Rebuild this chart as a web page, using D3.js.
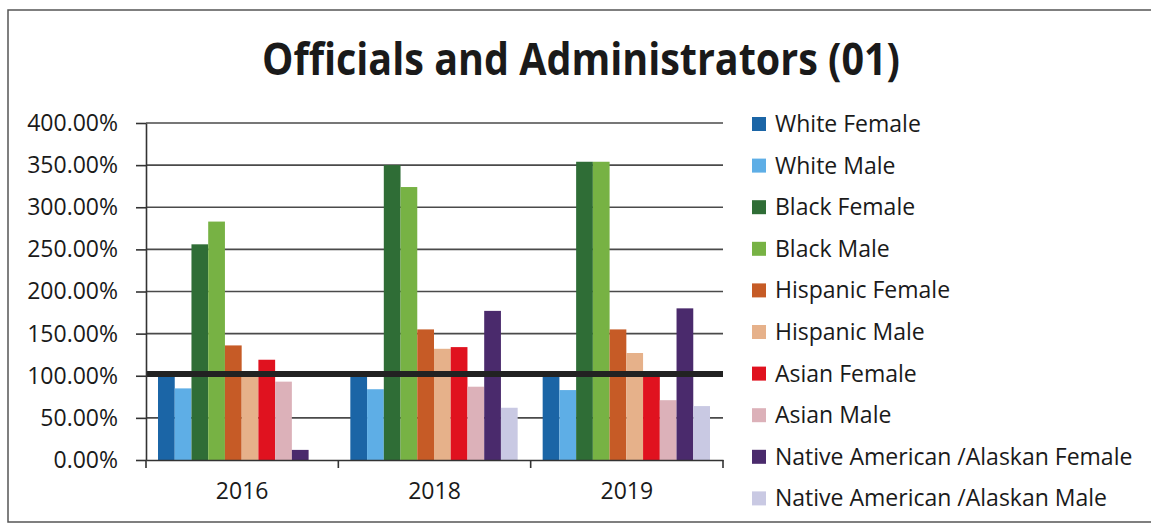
<!DOCTYPE html>
<html>
<head>
<meta charset="utf-8">
<script src="https://cdn.jsdelivr.net/npm/d3@7"></script>
<style>
  body { margin: 0; background: #fff; }
  text { font-family: "Open Sans", sans-serif; fill: #1a1a1a; }
</style>
</head>
<body>
<script>
// categories + series (ratio, 1 = 100%)
const years = ["2016", "2018", "2019"];
const seriesNames = [
  "White Female", "White Male", "Black Female", "Black Male",
  "Hispanic Female", "Hispanic Male", "Asian Female", "Asian Male",
  "Native American /Alaskan Female", "Native American /Alaskan Male"
];
const seriesColors = [
  "#1b65a6", "#5eaee6", "#2f6d36", "#77b244",
  "#c65b26", "#e6b18a", "#e0121f", "#dcb1b9",
  "#4a2a6c", "#c9c9e3"
];
const values2016 = [1.00, 0.85, 2.56, 2.83, 1.36, 1.02, 1.19, 0.93, 0.12, 0.00];
const values2018 = [1.00, 0.84, 3.50, 3.24, 1.55, 1.32, 1.34, 0.87, 1.77, 0.62];
const values2019 = [1.00, 0.83, 3.54, 3.54, 1.55, 1.27, 1.00, 0.71, 1.80, 0.64];
const yTicks = [0, 0.5, 1, 1.5, 2, 2.5, 3, 3.5, 4];
const refLine = 1.02;
const title = "Officials and Administrators (01)";

const allValues = [values2016, values2018, values2019];

function main() {
    const W = 1151, H = 525;
    let svg = d3.select("body").append("svg")
        .attr("width", W)
        .attr("height", H);

    // frame
    svg.append("rect")
        .attr("x", 8).attr("y", 10)
        .attr("width", 1150).attr("height", 512)
        .attr("fill", "none")
        .attr("stroke", "#555")
        .attr("stroke-width", 1.5);

    // title
    svg.append("text")
        .attr("x", 581).attr("y", 75)
        .attr("text-anchor", "middle")
        .style("font-size", "44px")
        .style("font-weight", "bold")
        .attr("textLength", 638)
        .attr("lengthAdjust", "spacingAndGlyphs")
        .text(title);

    let x0 = d3.scaleBand().domain(years).range([146, 723]);
    let x1 = d3.scaleBand().domain(seriesNames)
        .range([12, x0.bandwidth() - 13]);
    let y = d3.scaleLinear().domain([0, 4]).range([460, 123]);

    // gridlines
    svg.append("g")
        .selectAll("line")
        .data(yTicks.filter(d => d > 0))
        .enter().append("line")
        .attr("x1", 146).attr("x2", 723)
        .attr("y1", d => y(d)).attr("y2", d => y(d))
        .attr("stroke", "#4a4a4a")
        .attr("stroke-width", 1.6);

    // bars
    let groups = svg.append("g")
        .selectAll("g")
        .data(years)
        .enter().append("g")
        .attr("transform", d => "translate(" + x0(d) + ",0)");

    groups.selectAll("rect")
        .data((d, i) => allValues[i].map((v, j) => ({name: seriesNames[j], v: v, c: seriesColors[j]})))
        .enter().append("rect")
        .attr("x", d => x1(d.name))
        .attr("width", x1.bandwidth())
        .attr("y", d => y(d.v))
        .attr("height", d => y(0) - y(d.v))
        .attr("fill", d => d.c);

    // reference line at 100%
    svg.append("line")
        .attr("x1", 146).attr("x2", 723)
        .attr("y1", y(refLine)).attr("y2", y(refLine))
        .attr("stroke", "#222")
        .attr("stroke-width", 6);

    // y axis
    let yAxis = svg.append("g")
        .attr("transform", "translate(146,0)")
        .call(d3.axisLeft(y).tickValues(yTicks)
            .tickFormat(d => (d * 100).toFixed(2) + "%")
            .tickSizeInner(10).tickSizeOuter(0).tickPadding(18));
    yAxis.select(".domain").attr("stroke", "#333").attr("stroke-width", 1.6);
    yAxis.selectAll(".tick line").attr("stroke", "#333").attr("stroke-width", 1.6);
    yAxis.selectAll("text").style("font-size", "23px").attr("fill", "#1a1a1a");

    // x axis
    let xAxis = svg.append("g")
        .attr("transform", "translate(0,460)")
        .call(d3.axisBottom(x0).tickSize(0).tickPadding(23));
    xAxis.select(".domain").attr("stroke", "#333").attr("stroke-width", 1.6);
    xAxis.selectAll("text").style("font-size", "23px").attr("fill", "#1a1a1a");
    // category boundary ticks
    xAxis.selectAll(".bound")
        .data(years.concat(["end"]))
        .enter().append("line")
        .attr("x1", (d, i) => i < years.length ? x0(d) : x0.range()[1])
        .attr("x2", (d, i) => i < years.length ? x0(d) : x0.range()[1])
        .attr("y1", 0).attr("y2", 8)
        .attr("stroke", "#333").attr("stroke-width", 1.6);

    // legend
    let legend = svg.append("g")
        .selectAll("g")
        .data(seriesNames)
        .enter().append("g")
        .attr("transform", (d, i) => "translate(752," + (124 + i * 41.6) + ")");
    legend.append("rect")
        .attr("x", 0).attr("y", -7)
        .attr("width", 14).attr("height", 14)
        .attr("fill", (d, i) => seriesColors[i]);
    legend.append("text")
        .attr("x", 23).attr("y", 8)
        .style("font-size", "23px")
        .text(d => d);
}

main();
</script>
</body>
</html>
